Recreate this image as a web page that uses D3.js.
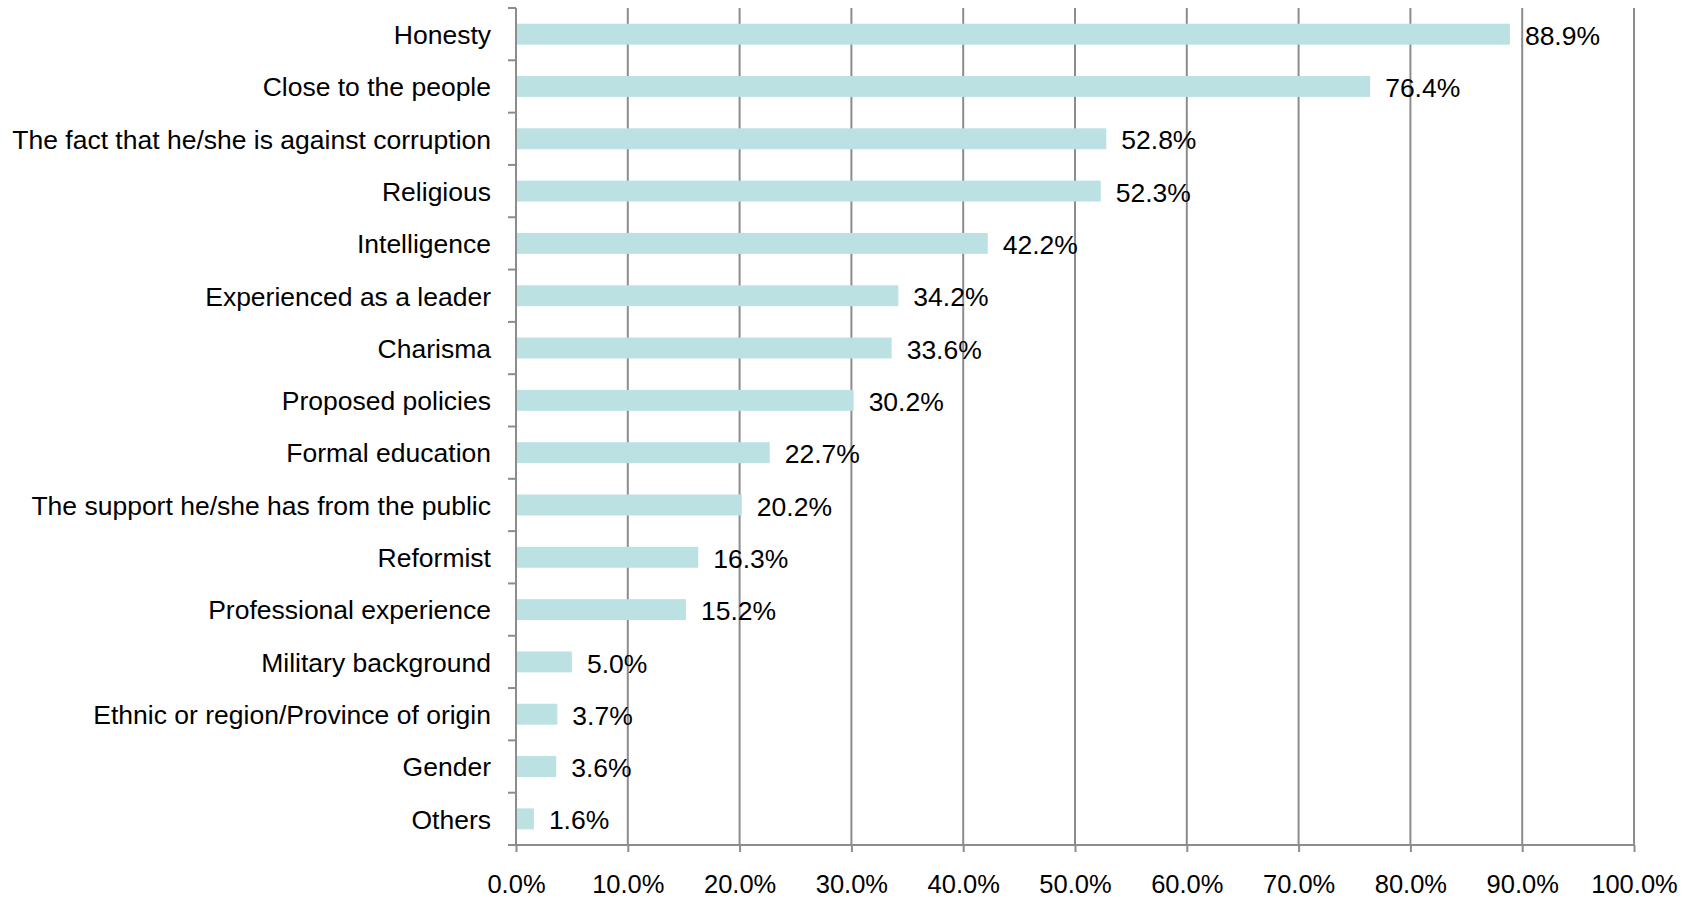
<!DOCTYPE html>
<html>
<head>
<meta charset="utf-8">
<script src="https://cdn.jsdelivr.net/npm/d3@7"></script>
<style>
    body { margin: 0; background: #fff; }
    text { font-family: "Liberation Sans", Arial, sans-serif; fill: #000; }
</style>
</head>
<body>
<svg id="chart" width="1692" height="900"></svg>
<script>
// Chart data
let categories = ["Honesty", "Close to the people", "The fact that he/she is against corruption",
    "Religious", "Intelligence", "Experienced as a leader", "Charisma", "Proposed policies",
    "Formal education", "The support he/she has from the public", "Reformist",
    "Professional experience", "Military background", "Ethnic or region/Province of origin",
    "Gender", "Others"];
let values = [88.9, 76.4, 52.8, 52.3, 42.2, 34.2, 33.6, 30.2, 22.7, 20.2, 16.3, 15.2, 5.0, 3.7, 3.6, 1.6];
let x_ticks = [0, 10, 20, 30, 40, 50, 60, 70, 80, 90, 100];

let margin = {top: 8, left: 516, right: 58, bottom: 55};
let width = 1692 - margin.left - margin.right;
let height = 900 - margin.top - margin.bottom;

let svg = d3.select("#chart");
let g = svg.append("g").attr("transform", "translate(" + margin.left + "," + margin.top + ")");

let x = d3.scaleLinear().domain([0, 100]).range([0, width]);
let y = d3.scaleBand().domain(categories).range([0, height]).paddingInner(0.6).paddingOuter(0.3);

// Vertical gridlines
g.selectAll(".grid").data(x_ticks.slice(1)).join("line")
    .attr("class", "grid")
    .attr("x1", d => x(d)).attr("x2", d => x(d))
    .attr("y1", 0).attr("y2", height)
    .style("stroke", "#8c8c8c")
    .style("stroke-width", 2);

// Bars
g.selectAll(".bar").data(values).join("rect")
    .attr("class", "bar")
    .attr("x", x(0))
    .attr("y", (d, i) => y(categories[i]))
    .attr("width", d => x(d))
    .attr("height", y.bandwidth())
    .style("fill", "#bce1e3");

// Value labels
g.selectAll(".vlabel").data(values).join("text")
    .attr("class", "vlabel")
    .attr("x", d => x(d) + 15)
    .attr("y", (d, i) => y(categories[i]) + y.bandwidth() / 2)
    .attr("dy", "0.4em")
    .style("font-size", "26.5px")
    .text(d => d.toFixed(1) + "%");

// Y axis
let yAxis = g.append("g")
    .call(d3.axisLeft(y).tickSize(0).tickPadding(25));
yAxis.select(".domain").remove();
yAxis.selectAll("text").style("font-size", "26.5px").attr("dy", "0.37em");

// Category separator ticks on the y axis
let step = height / categories.length;
g.selectAll(".ytick").data(d3.range(categories.length + 1)).join("line")
    .attr("class", "ytick")
    .attr("x1", -8).attr("x2", 0)
    .attr("y1", d => d * step).attr("y2", d => d * step)
    .style("stroke", "#8c8c8c")
    .style("stroke-width", 2);

g.append("line")
    .attr("x1", 0).attr("x2", 0)
    .attr("y1", 0).attr("y2", height)
    .style("stroke", "#8c8c8c")
    .style("stroke-width", 2);

// X axis
let xAxis = g.append("g")
    .attr("transform", "translate(0," + height + ")")
    .call(d3.axisBottom(x).tickValues(x_ticks).tickSize(7).tickPadding(23)
        .tickFormat(d => d.toFixed(1) + "%"));
xAxis.select(".domain").attr("d", "M0,0H" + width).style("stroke", "#8c8c8c").style("stroke-width", 2);
xAxis.selectAll(".tick line").style("stroke", "#8c8c8c").style("stroke-width", 2);
xAxis.selectAll("text").style("font-size", "25.5px");
</script>
</body>
</html>
